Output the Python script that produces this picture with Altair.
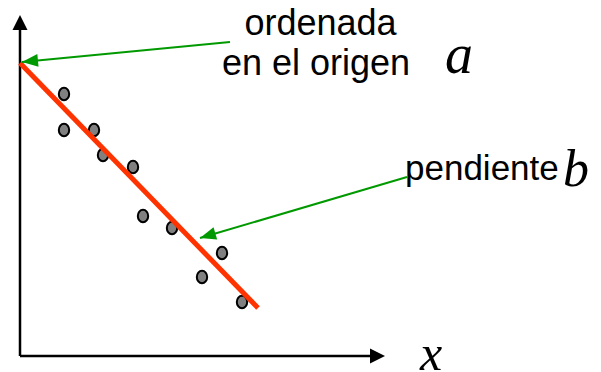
import altair as alt
import pandas as pd
import numpy as np

# data units: 1 unit ~ 10 px, origin at axes corner
pts_x = [4.4, 4.4, 7.4, 8.3, 11.3, 12.3, 15.2, 18.2, 20.2, 22.2]
pts_y = [26.2, 22.6, 22.6, 20.1, 18.9, 14.0, 12.8, 7.9, 10.3, 5.4]

fit_x = [0.0, 23.8]
fit_y = [29.3, 4.8]

yaxis_x = [0.0, 0.0]
yaxis_y = [0.0, 32.6]
yaxis_tip = (0.0, 34.1)
xaxis_x = [0.0, 35.0]
xaxis_y = [0.0, 0.0]
xaxis_tip = (36.5, 0.0)

arrow1_from = (21.0, 31.4)
arrow1_to = (0.2, 29.4)
arrow2_from = (38.7, 17.9)
arrow2_to = (18.0, 11.8)

labels_sans = ["ordenada", "en el origen", "pendiente"]
labels_sans_x = [30.05, 29.6, 38.5]
labels_sans_y = [32.1, 28.1, 17.6]
labels_sans_align = ["center", "center", "left"]

labels_math = ["a", "b", "x"]
labels_math_x = [42.5, 54.3, 40.0]
labels_math_y = [28.3, 17.0, -1.4]
labels_math_size = [56, 52, 50]

W, H = 585, 364
xs = alt.Scale(domain=[-1.2, 57.3], nice=False, zero=False)
ys = alt.Scale(domain=[-1.6, 34.8], nice=False, zero=False)

def X(f="x"):
    return alt.X(f"{f}:Q", scale=xs, axis=None)

def Y(f="y"):
    return alt.Y(f"{f}:Q", scale=ys, axis=None)

def seg(xv, yv, color, width):
    df = pd.DataFrame({"x": xv, "y": yv, "o": list(range(len(xv)))})
    return alt.Chart(df).mark_line(color=color, strokeWidth=width, strokeCap="butt").encode(
        x=X(), y=Y(), order="o:Q")

def head(tip, angle, color, size, path):
    df = pd.DataFrame({"x": [tip[0]], "y": [tip[1]]})
    return alt.Chart(df).mark_point(shape=path, filled=True, fill=color, color=color,
                                    opacity=1, size=size, angle=angle, strokeWidth=0).encode(x=X(), y=Y())

def ang(frm, to):
    dx = to[0] - frm[0]
    dys = -(to[1] - frm[1])
    return float(np.degrees(np.arctan2(dx, -dys)) % 360)

green = "#009900"
green_head = "M0,0L0.8,2L-0.8,2Z"
black_head = "M0,0L1,2L-1,2Z"

ellipse = "M-0.82,0A0.82,1,0,1,0,0.82,0A0.82,1,0,1,0,-0.82,0Z"

pts = alt.Chart(pd.DataFrame({"x": pts_x, "y": pts_y})).mark_point(
    shape=ellipse, filled=True, fill="#808080", stroke="#000000", strokeWidth=2,
    opacity=1, size=160).encode(x=X(), y=Y())

fit = seg(fit_x, fit_y, "#FF3300", 5)

yax = seg(yaxis_x, yaxis_y, "#000000", 2.5)
xax = seg(xaxis_x, xaxis_y, "#000000", 2.5)
yhead = head(yaxis_tip, 0, "#000000", 225, black_head)
xhead = head(xaxis_tip, 90, "#000000", 225, black_head)

a1 = seg([arrow1_from[0], arrow1_to[0]], [arrow1_from[1], arrow1_to[1]], green, 2)
a1h = head(arrow1_to, ang(arrow1_from, arrow1_to), green, 256, green_head)
a2 = seg([arrow2_from[0], arrow2_to[0]], [arrow2_from[1], arrow2_to[1]], green, 2)
a2h = head(arrow2_to, ang(arrow2_from, arrow2_to), green, 256, green_head)

sans_df = pd.DataFrame({"t": labels_sans, "x": labels_sans_x, "y": labels_sans_y,
                        "al": labels_sans_align})
sans_c = alt.Chart(sans_df[sans_df.al == "center"]).mark_text(
    font="Liberation Sans", fontSize=36, color="#000000", align="center", baseline="alphabetic"
).encode(x=X(), y=Y(), text="t:N")
sans_l = alt.Chart(sans_df[sans_df.al == "left"]).mark_text(
    font="Liberation Sans", fontSize=35, color="#000000", align="left", baseline="alphabetic"
).encode(x=X(), y=Y(), text="t:N")

math_df = pd.DataFrame({"t": labels_math, "x": labels_math_x, "y": labels_math_y,
                        "s": labels_math_size})
math_t = alt.Chart(math_df).mark_text(
    font="Liberation Serif", fontStyle="italic", color="#000000", align="left", baseline="alphabetic"
).encode(x=X(), y=Y(), text="t:N", size=alt.Size("s:Q", scale=None, legend=None))

chart = alt.layer(
    yax, xax, yhead, xhead, pts, fit, a1, a1h, a2, a2h, sans_c, sans_l, math_t
).properties(width=W, height=H, padding=0, autosize="none").configure_view(stroke=None)

chart.save("out.html", embed_options={"renderer": "svg", "actions": False})
